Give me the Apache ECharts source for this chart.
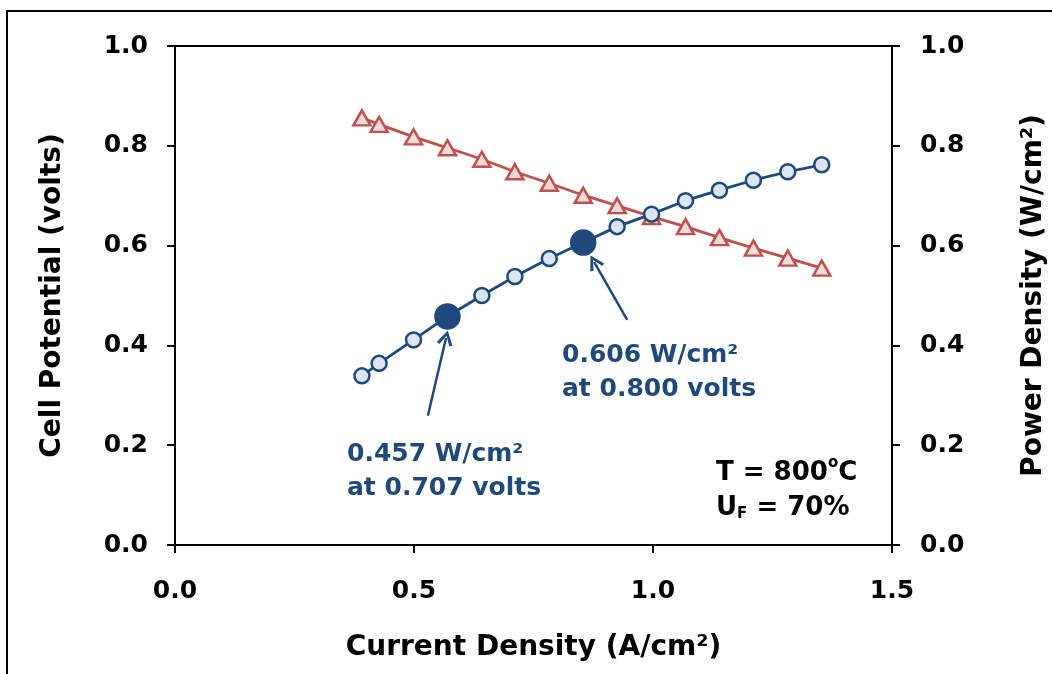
<!DOCTYPE html>
<html>
<head>
<meta charset="utf-8">
<script src="https://cdn.jsdelivr.net/npm/echarts@6/dist/echarts.min.js"></script>
<style>
  html, body { margin: 0; padding: 0; background: #fff; }
  #main { width: 1052px; height: 674px; }
</style>
</head>
<body>
<div id="main"></div>
<script>
// 电流密度 (A/cm2)
var currentDensity = [0.391, 0.427, 0.499, 0.570, 0.642, 0.711, 0.783, 0.854, 0.925, 0.997, 1.068, 1.139, 1.210, 1.282, 1.353];
// 电池电压 (volts)
var cellPotential = [0.856, 0.843, 0.818, 0.796, 0.773, 0.748, 0.725, 0.701, 0.680, 0.658, 0.638, 0.616, 0.595, 0.575, 0.555];
// 功率密度 (W/cm2)
var powerDensity = [0.339, 0.364, 0.411, 0.458, 0.500, 0.538, 0.574, 0.606, 0.638, 0.663, 0.690, 0.711, 0.731, 0.748, 0.762];
// 高亮的两个点
var highlightIdx = [3, 7];
// 箭头 [尾, 头]
var arrow1 = [[0.529, 0.259], [0.567, 0.415]];
var arrow2 = [[0.946, 0.451], [0.877, 0.567]];
var xTicks = [0.0, 0.5, 1.0, 1.5];
var yTicks = [0.0, 0.2, 0.4, 0.6, 0.8, 1.0];

var FONT = 'DejaVu Sans';
var BLUE = '#1f497d';
var RED = '#c0504d';

var potentialData = currentDensity.map(function (x, i) { return [x, cellPotential[i]]; });
var powerData = currentDensity.map(function (x, i) {
    var big = highlightIdx.indexOf(i) >= 0;
    return {
        value: [x, powerDensity[i]],
        symbolSize: big ? 24 : 15,
        itemStyle: big ? { color: BLUE, borderColor: BLUE } : undefined
    };
});

var arrowHead = 'path://M0,10 L5,0 L10,10 L8.2,11 L5,3.8 L1.8,11 Z';

var myChart = echarts.init(document.getElementById('main'));

function yAxisOpt(name, pos) {
    return {
        type: 'value',
        position: pos,
        min: yTicks[0], max: yTicks[yTicks.length - 1], interval: 0.2,
        name: name,
        nameLocation: 'middle',
        nameGap: pos === 'left' ? 108 : 128,
        nameRotate: 90,
        nameTextStyle: { fontFamily: FONT, fontWeight: 'bold', fontSize: 28, color: '#000' },
        axisLine: { show: true, lineStyle: { color: '#000', width: 2 } },
        axisTick: { show: true, inside: false, length: 8, lineStyle: { color: '#000', width: 2 } },
        axisLabel: {
            margin: pos === 'left' ? 27 : 28,
            fontFamily: FONT, fontWeight: 'bold', fontSize: 25, color: '#000',
            formatter: function (v) { return v.toFixed(1); }
        },
        splitLine: { show: false }
    };
}

myChart.setOption({
    animation: false,
    grid: {
        left: 175, right: 160, top: 46, bottom: 129,
        outerBoundsMode: 'none',
        containLabel: false,
        show: true, borderColor: '#000', borderWidth: 2, backgroundColor: 'transparent'
    },
    xAxis: {
        type: 'value',
        min: xTicks[0], max: xTicks[xTicks.length - 1], interval: 0.5,
        name: 'Current Density (A/cm²)',
        nameLocation: 'middle',
        nameGap: 89,
        nameTextStyle: { fontFamily: FONT, fontWeight: 'bold', fontSize: 28, color: '#000' },
        axisLine: { show: true, onZero: false, lineStyle: { color: '#000', width: 2 } },
        axisTick: { show: true, length: 8, lineStyle: { color: '#000', width: 2 } },
        axisLabel: {
            margin: 34,
            fontFamily: FONT, fontWeight: 'bold', fontSize: 25, color: '#000',
            formatter: function (v) { return v.toFixed(1); }
        },
        splitLine: { show: false }
    },
    yAxis: [
        yAxisOpt('Cell Potential (volts)', 'left'),
        yAxisOpt('Power Density (W/cm²)', 'right')
    ],
    series: [
        {
            name: 'Cell Potential',
            type: 'line',
            yAxisIndex: 0,
            data: potentialData,
            symbol: 'triangle',
            symbolSize: [17, 15],
            lineStyle: { color: RED, width: 2.8 },
            itemStyle: { color: '#f2dcdb', borderColor: RED, borderWidth: 2.5 },
            z: 2
        },
        {
            name: 'Power Density',
            type: 'line',
            yAxisIndex: 1,
            data: powerData,
            symbol: 'circle',
            lineStyle: { color: BLUE, width: 2.8 },
            itemStyle: { color: '#dce6f2', borderColor: BLUE, borderWidth: 2.5 },
            z: 3,
            markLine: {
                silent: true,
                symbol: ['none', arrowHead],
                symbolSize: [16, 15],
                label: { show: false },
                lineStyle: { color: BLUE, width: 2.5, type: 'solid' },
                data: [
                    [{ coord: arrow1[0] }, { coord: arrow1[1] }],
                    [{ coord: arrow2[0] }, { coord: arrow2[1] }]
                ]
            }
        }
    ],
    graphic: [
        {
            type: 'rect',
            shape: { x: 7, y: 11, width: 1100, height: 700 },
            style: { fill: 'none', stroke: '#000', lineWidth: 2 },
            silent: true
        },
        {
            type: 'text', left: 347, top: 437,
            style: {
                text: '0.457 W/cm²\nat 0.707 volts',
                font: 'bold 25px "DejaVu Sans"', fill: BLUE, lineHeight: 34
            }
        },
        {
            type: 'text', left: 562, top: 338,
            style: {
                text: '0.606 W/cm²\nat 0.800 volts',
                font: 'bold 25px "DejaVu Sans"', fill: BLUE, lineHeight: 34
            }
        },
        {
            type: 'text', left: 716, top: 456,
            style: {
                text: 'T = 800{sup|o}C\nU{sub|F} = 70%',
                font: 'bold 26px "DejaVu Sans"', fill: '#000', lineHeight: 35,
                rich: {
                    sup: { fontFamily: FONT, fontWeight: 'bold', fontSize: 15, fill: '#000', verticalAlign: 'top', padding: [0, 0, 10, 0] },
                    sub: { fontFamily: FONT, fontWeight: 'bold', fontSize: 15, fill: '#000', padding: [12, 0, 0, 0] }
                }
            }
        }
    ]
});
</script>
</body>
</html>
